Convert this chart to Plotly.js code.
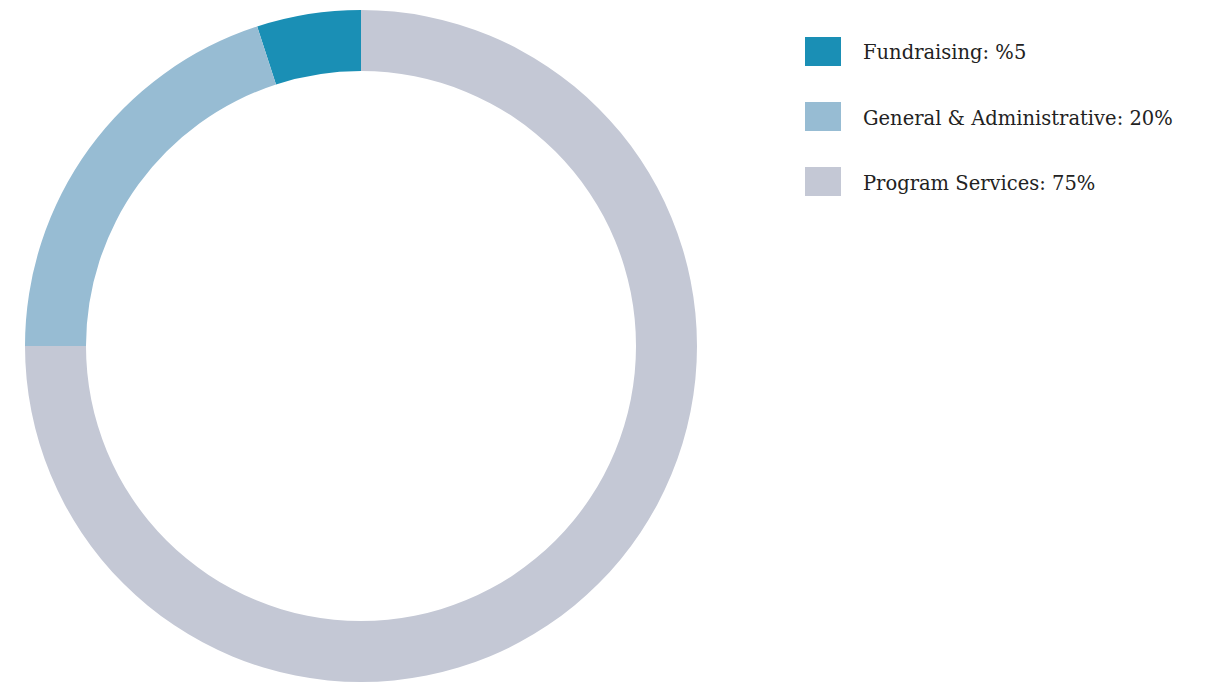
<!DOCTYPE html>
<html>
<head>
<meta charset="utf-8">
<script src="https://cdn.plot.ly/plotly-3.0.1.min.js"></script>
<style>html,body{margin:0;padding:0;background:#fff;}#chart{width:1211px;height:684px;}</style>
</head>
<body>
<div id="chart"></div>
<script>
const categories = ["Fundraising", "General & Administrative", "Program Services"];
const values = [5, 20, 75];
const legendLabels = ["Fundraising: %5", "General & Administrative: 20%", "Program Services: 75%"];
const colors = ["#1a8fb5", "#97bcd3", "#c4c8d5"];

const W = 1211, H = 684;
const cx = 361, cy = 346, R = 336;

const trace = {
  type: "pie",
  labels: categories,
  values: values,
  sort: false,
  direction: "counterclockwise",
  rotation: -18,
  hole: 0.8185,
  textinfo: "none",
  hoverinfo: "label+percent",
  marker: {colors: colors, line: {width: 0}},
  domain: {x: [(cx - R) / W, (cx + R) / W], y: [(H - cy - R) / H, (H - cy + R) / H]},
  showlegend: false
};

const shapes = [], annotations = [];
legendLabels.forEach((t, i) => {
  const top = 37 + i * 65;
  shapes.push({type: "rect", xref: "paper", yref: "paper",
    x0: 805 / W, x1: 841 / W, y0: 1 - (top + 29) / H, y1: 1 - top / H,
    fillcolor: colors[i], line: {width: 0}});
  annotations.push({xref: "paper", yref: "paper", x: 861 / W, y: 1 - (top + 16) / H,
    xanchor: "left", yanchor: "middle", showarrow: false, text: t,
    font: {family: "DejaVu Serif", size: 19.5, color: "#222"}});
});

Plotly.newPlot("chart", [trace], {
  width: W, height: H,
  margin: {l: 0, r: 0, t: 0, b: 0},
  paper_bgcolor: "#fff",
  shapes: shapes, annotations: annotations
}, {displayModeBar: false});
</script>
</body>
</html>
